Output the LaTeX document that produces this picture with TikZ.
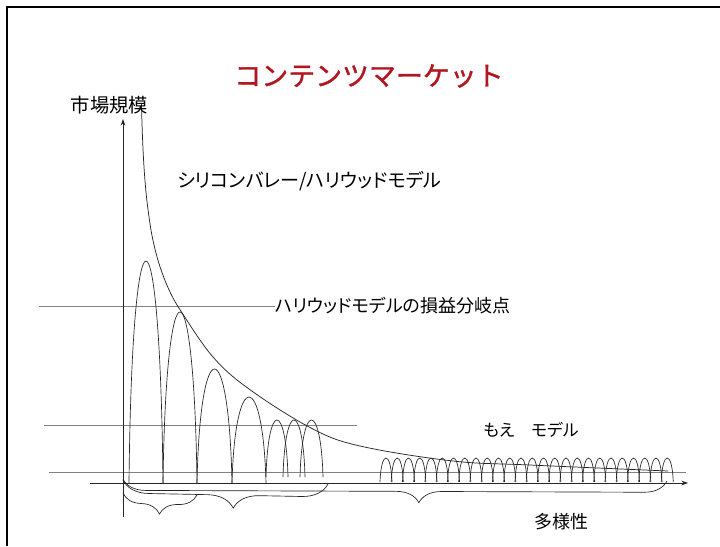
\documentclass[tikz,border=0pt]{standalone}
\usepackage{fontspec}
\newfontfamily\jp{Noto Sans CJK JP}
\newfontfamily\jpt[FakeBold=1.2]{Noto Sans CJK JP}
\newfontfamily\jpp[RawFeature=+palt]{Noto Sans CJK JP}
\usetikzlibrary{decorations.pathreplacing,arrows.meta}
\definecolor{titlered}{RGB}{178,22,32}
\definecolor{refgray}{RGB}{130,130,130}
\tikzset{
  hline/.style={draw=refgray,line width=0.6pt},
  axis/.style={draw=black!85,line width=0.6pt,-{Stealth[length=5pt,width=3.5pt]}},
  arch/.style={draw=black!85,line width=0.5pt},
  mkt/.style={draw=black!85,line width=0.55pt},
  brc/.style={draw=black!85,line width=0.5pt,decorate},
  lbl/.style={inner sep=0pt,font=\jpp\fontsize{13.5}{16}\selectfont},
}
\newcommand\myhump[4]{\draw[arch] (#1,#4) .. controls ({#1+0.09*(#2-#1)},{#4-4/3*(#4-#3)}) and ({#2-0.09*(#2-#1)},{#4-4/3*(#4-#3)}) .. (#2,#4);}
\begin{document}
\begin{tikzpicture}[x=0.75pt,y=-0.75pt]
\useasboundingbox (0,0) rectangle (720,546);
\fill[white] (0,0) rectangle (720,546);
\draw[line width=1.5pt] (6.5,546) -- (6.5,6.5) -- (720,6.5);
% reference lines
\draw[hline] (39,306) -- (275,306);
\draw[hline] (44,425) -- (357,425);
\draw[hline] (49,472) -- (686,472);
% axes
\draw[axis] (123,517) -- (123,119);
\draw[axis] (90,483) -- (688,483);
% big humps
\myhump{129}{163}{261}{483}
\myhump{163}{197}{312}{483}
\myhump{197}{232}{369}{483}
\myhump{232}{266}{397}{483}
\myhump{266}{288}{420}{477}
\myhump{283}{305}{420}{477}
\myhump{300}{323}{420}{477}
% moe humps
\foreach \i in {0,...,25} {
  \pgfmathsetmacro\xa{380+11.25*\i}
  \pgfmathsetmacro\xb{\xa+12}
  \myhump{\xa}{\xb}{458}{482}
}
% market curve
\draw[mkt] plot[smooth,tension=0.6] coordinates {(141.45,104) (142.4,135) (144,167) (146.5,197) (150.5,227) (154.5,247) (160.1,267) (169.1,290) (181.5,312) (213,357) (249,389) (311,428) (360,446) (453,461) (530,465) (668,471)};
% braces
\draw[brc,decoration={brace,mirror,amplitude=15pt,aspect=0.5}] (123,493) -- (197,495);
\draw[brc,decoration={brace,mirror,amplitude=19.5pt,aspect=0.54}] (123,480) -- (328,484);
\draw[brc,decoration={brace,mirror,amplitude=17pt,aspect=0.544}] (123,479) -- (667,481);
% texts
\node[inner sep=0pt,font=\jpt\fontsize{20.2}{24}\selectfont,text=titlered] (title) at (369,76) {コンテンツマーケット};
\node[lbl,font=\jp\fontsize{14.5}{16}\selectfont] (yl) at (109.5,105) {市場規模};
\node[lbl,anchor=west,font=\jpp\fontsize{14.3}{16}\selectfont] (sv) at (177,181) {シリコンバレー/ハリウッドモデル};
\node[lbl,anchor=west] (be) at (275,306) {ハリウッドモデルの損益分岐点};
\node[lbl,anchor=west,font=\jpp\fontsize{12.6}{16}\selectfont] (moe) at (483,430) {もえ　モデル};
\node[lbl,font=\jp\fontsize{13.5}{16}\selectfont] (div) at (561.5,522) {多様性};
\end{tikzpicture}
\end{document}
